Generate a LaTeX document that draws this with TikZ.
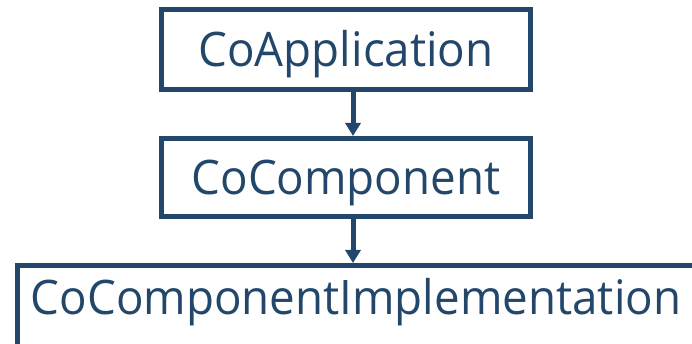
\documentclass[tikz,border=0pt]{standalone}
\usepackage{fontspec}
\setmainfont{Open Sans}[FakeStretch=0.96]
\usepackage{tikz}
\usetikzlibrary{arrows.meta}
\definecolor{boxblue}{RGB}{35,71,107}
\tikzset{
  cls/.style={draw=boxblue,line width=5pt,text=boxblue,
    font=\fontsize{47.6}{50}\selectfont,
    text height=34pt,text depth=0pt,inner sep=0pt},
}

\begin{document}
\begin{tikzpicture}[x=1pt,y=-1pt]
    \useasboundingbox (0,0) rectangle (692,344);
    \clip (0,0) rectangle (692,344);
    \node[cls,minimum width=369pt,minimum height=80pt] (1) at (346,49.5) {CoApplication};
    \node[cls,minimum width=369pt,minimum height=78pt] (2) at (346,177.5) {CoComponent};
    \node[cls,minimum width=677pt,minimum height=100pt,text depth=36pt] (3) at (356,315.5) {CoComponentImplementation};

    \path[boxblue,line width=5pt,-{Triangle[width=15pt,length=13pt]}]
    ([xshift=7pt]1.south) edge ([xshift=7pt]2.north)
    ([xshift=7pt]2.south) edge ([xshift=-3pt]3.north)
    ;
  \end{tikzpicture}
\end{document}
